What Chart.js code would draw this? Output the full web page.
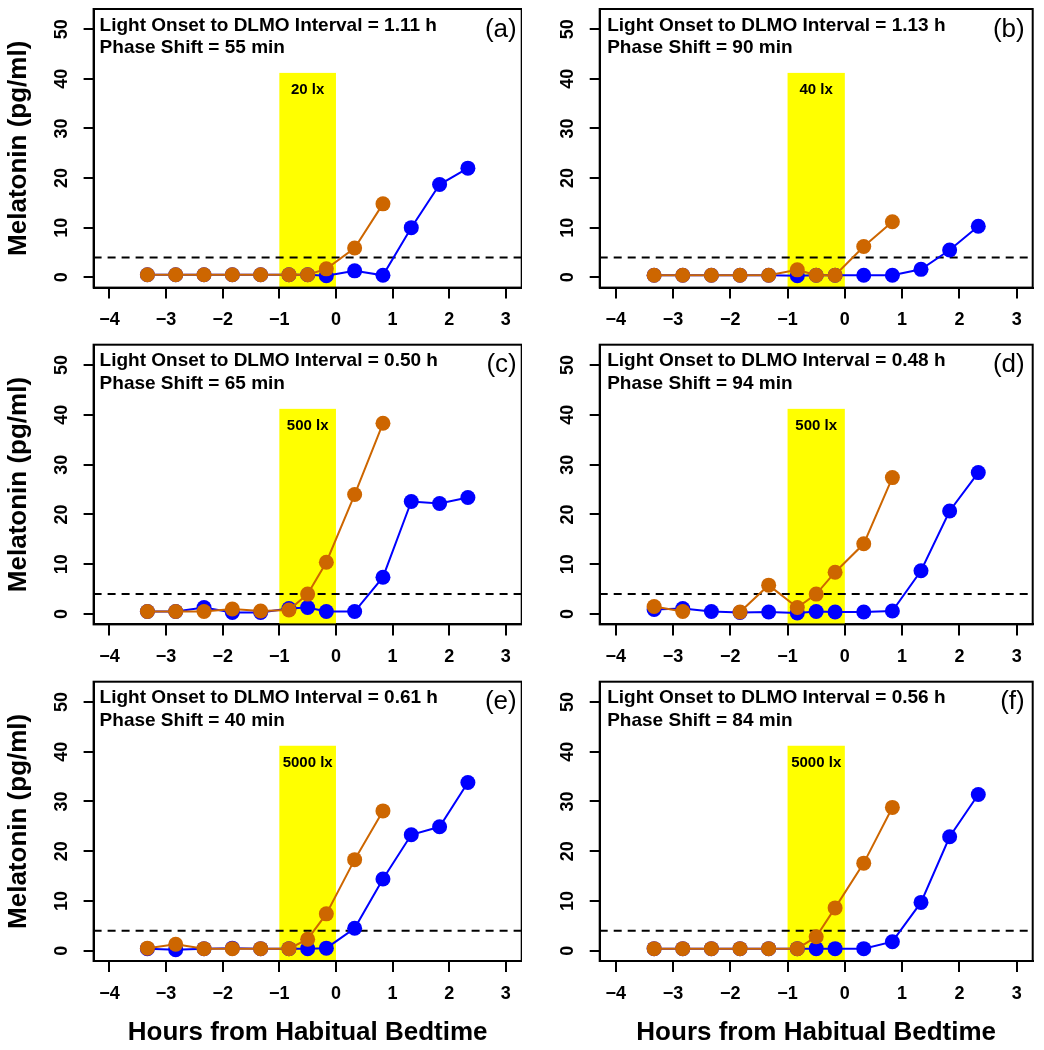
<!DOCTYPE html>
<html>
<head>
<meta charset="utf-8">
<script src="https://cdn.jsdelivr.net/npm/chart.js@4.4.0/dist/chart.umd.min.js"></script>
<style>
html,body{margin:0;padding:0;background:#ffffff;}
#wrap{position:relative;width:1044px;height:1050px;overflow:hidden;}
#wrap canvas{position:absolute;}
</style>
</head>
<body>
<div id="wrap"></div>
<script>
// ---------- data ----------
const hours = [-3.33, -2.83, -2.33, -1.83, -1.33, -0.83, -0.5, -0.17, 0.33, 0.83, 1.33, 1.83, 2.33];

const orangeA = [0.5, 0.5, 0.5, 0.5, 0.5, 0.5, 0.5, 1.7, 5.9, 14.8];
const blueA   = [0.5, 0.5, 0.5, 0.5, 0.5, 0.5, 0.5, 0.3, 1.3, 0.4, 10.0, 18.7, 22.0];

const orangeB = [0.4, 0.4, 0.4, 0.4, 0.4, 1.5, 0.4, 0.4, 6.2, 11.2];
const blueB   = [0.4, 0.4, 0.4, 0.4, 0.4, 0.3, 0.4, 0.4, 0.4, 0.4, 1.6, 5.5, 10.3];

const orangeC = [0.5, 0.5, 0.5, 1.0, 0.6, 0.8, 4.0, 10.4, 24.0, 38.3];
const blueC   = [0.5, 0.5, 1.3, 0.3, 0.3, 1.1, 1.3, 0.5, 0.5, 7.4, 22.6, 22.2, 23.4];

const orangeD = [1.5, 0.5, null, 0.4, 5.8, 1.3, 4.0, 8.4, 14.1, 27.4];
const blueD   = [0.9, 1.1, 0.5, 0.3, 0.4, 0.2, 0.5, 0.4, 0.4, 0.6, 8.7, 20.7, 28.4];

const orangeE = [0.5, 1.3, 0.4, 0.4, 0.4, 0.4, 2.3, 7.4, 18.3, 28.1];
const blueE   = [0.4, 0.2, 0.4, 0.5, 0.4, 0.4, 0.4, 0.5, 4.5, 14.4, 23.3, 24.9, 33.8];

const orangeF = [0.4, 0.4, 0.4, 0.4, 0.4, 0.4, 2.8, 8.6, 17.6, 28.8];
const blueF   = [0.4, 0.4, 0.4, 0.4, 0.4, 0.4, 0.4, 0.4, 0.4, 1.8, 9.7, 22.9, 31.4];

const panelLetters = ['a', 'b', 'c', 'd', 'e', 'f'];
const luxLabels = ['20 lx', '40 lx', '500 lx', '500 lx', '5000 lx', '5000 lx'];
const dlmoIntervals = ['1.11', '1.13', '0.50', '0.48', '0.61', '0.56'];
const phaseShifts = [55, 90, 65, 94, 40, 84];

const xTicks = [-4, -3, -2, -1, 0, 1, 2, 3];
const xTickLabels = ['\u22124', '\u22123', '\u22122', '\u22121', '0', '1', '2', '3'];
const yTicks = [0, 10, 20, 30, 40, 50];
const yTickLabels = ['0', '10', '20', '30', '40', '50'];

const lightStart = -1, lightEnd = 0, lightTop = 41.2, luxLabelY = 37.8;
const dlmoThreshold = 4;
const xMin = -4.28, xMax = 3.28, yMin = -2.08, yMax = 54.08;

// ---------- styling / layout ----------
const FONT = "'Liberation Sans', Arial, Helvetica, sans-serif";
const ORANGE = '#CD6600';
const BLUE = '#0000FF';
const YELLOW = '#FFFF00';

const orangeSeries = [orangeA, orangeB, orangeC, orangeD, orangeE, orangeF];
const blueSeries = [blueA, blueB, blueC, blueD, blueE, blueF];

const cols = [
  {left: 0,   width: 522, yAxisW: 93.6, padR: 0.3, textDx: 6,   letterDx: 5},
  {left: 522, width: 522, yAxisW: 77.7, padR: 11.3, textDx: 7.5, letterDx: 8}
];
const rows = [
  {top: 0,   height: 336, padT: 9,   xAxisH: 48.4},
  {top: 336, height: 336, padT: 8.7, xAxisH: 47.6},
  {top: 672, height: 378, padT: 9.7, xAxisH: 89}
];

const decor = {
  id: 'decor',
  beforeDatasetsDraw(chart, args, o) {
    const {ctx, chartArea: a, scales: {x, y}} = chart;
    ctx.save();
    ctx.beginPath();
    ctx.rect(a.left, a.top, a.right - a.left, a.bottom - a.top);
    ctx.clip();
    const x0 = x.getPixelForValue(lightStart);
    const x1 = x.getPixelForValue(lightEnd);
    const yt = y.getPixelForValue(lightTop);
    ctx.fillStyle = YELLOW;
    ctx.fillRect(x0, yt, x1 - x0, a.bottom - yt);
    ctx.fillStyle = '#000';
    ctx.font = 'bold 15px ' + FONT;
    ctx.textAlign = 'center';
    ctx.textBaseline = 'middle';
    ctx.fillText(o.lux, (x0 + x1) / 2, y.getPixelForValue(luxLabelY));
    const yd = y.getPixelForValue(dlmoThreshold);
    ctx.setLineDash([8, 6]);
    ctx.lineWidth = 2;
    ctx.strokeStyle = '#000';
    ctx.beginPath();
    ctx.moveTo(a.left, yd);
    ctx.lineTo(a.right, yd);
    ctx.stroke();
    ctx.restore();
  },
  afterDraw(chart, args, o) {
    const {ctx, chartArea: a} = chart;
    ctx.save();
    ctx.lineWidth = 2;
    ctx.strokeStyle = '#000';
    ctx.setLineDash([]);
    ctx.strokeRect(a.left, a.top, a.right - a.left, a.bottom - a.top);
    ctx.fillStyle = '#000';
    ctx.textBaseline = 'alphabetic';
    ctx.textAlign = 'left';
    ctx.font = 'bold 19px ' + FONT;
    ctx.fillText('Light Onset to DLMO Interval = ' + o.interval + ' h', a.left + o.textDx, a.top + 21.7);
    ctx.fillText('Phase Shift = ' + o.shift + ' min', a.left + o.textDx, a.top + 44.3);
    ctx.textAlign = 'right';
    ctx.font = '26px ' + FONT;
    ctx.fillText('(' + o.letter + ')', a.right - o.letterDx, a.top + 27.5);
    ctx.restore();
  }
};

const wrap = document.getElementById('wrap');

for (let p = 0; p < 6; p++) {
  const col = cols[p % 2];
  const row = rows[Math.floor(p / 2)];
  const isLeft = p % 2 === 0;
  const isBottom = p >= 4;
  const cv = document.createElement('canvas');
  cv.width = col.width;
  cv.height = row.height;
  cv.style.left = col.left + 'px';
  cv.style.top = row.top + 'px';
  cv.style.width = col.width + 'px';
  cv.style.height = row.height + 'px';
  wrap.appendChild(cv);

  const orange = orangeSeries[p];
  const blue = blueSeries[p];
  const tickFont = {family: FONT, size: 18, weight: 'bold'};

  new Chart(cv.getContext('2d'), {
    type: 'scatter',
    data: {
      datasets: [
        {
          data: orange.map((v, i) => ({x: hours[i], y: v})),
          showLine: true, spanGaps: false,
          borderColor: ORANGE, backgroundColor: ORANGE, borderWidth: 2,
          pointRadius: 7.5, pointHoverRadius: 7.5, pointBorderWidth: 0,
          pointBackgroundColor: ORANGE
        },
        {
          data: blue.map((v, i) => ({x: hours[i], y: v})),
          showLine: true, spanGaps: false,
          borderColor: BLUE, backgroundColor: BLUE, borderWidth: 2,
          pointRadius: 7.5, pointHoverRadius: 7.5, pointBorderWidth: 0,
          pointBackgroundColor: BLUE
        }
      ]
    },
    options: {
      responsive: false,
      maintainAspectRatio: false,
      devicePixelRatio: 1,
      animation: false,
      events: [],
      layout: {autoPadding: false, padding: {left: 0, right: col.padR, top: row.padT, bottom: 0}},
      plugins: {
        legend: {display: false},
        tooltip: {enabled: false},
        title: {display: false},
        decor: {
          lux: luxLabels[p], interval: dlmoIntervals[p], shift: phaseShifts[p],
          letter: panelLetters[p], textDx: col.textDx, letterDx: col.letterDx
        }
      },
      scales: {
        x: {
          type: 'linear', position: 'bottom', min: xMin, max: xMax,
          afterBuildTicks: s => { s.ticks = xTicks.map(v => ({value: v})); },
          afterFit: s => { s.height = row.xAxisH; s.paddingLeft = 0; s.paddingRight = 0; },
          ticks: {
            callback: (v, i) => xTickLabels[i],
            font: tickFont, color: '#000', padding: 11, autoSkip: false,
            minRotation: 0, maxRotation: 0
          },
          grid: {drawOnChartArea: false, drawTicks: true, tickLength: 11, color: '#000', lineWidth: 2},
          border: {display: true, color: '#000', width: 2},
          title: {
            display: isBottom, text: 'Hours from Habitual Bedtime', color: '#000',
            font: {family: FONT, size: 26, weight: 'bold', lineHeight: 1.2},
            padding: {top: 0, bottom: 1.7}
          }
        },
        y: {
          type: 'linear', position: 'left', min: yMin, max: yMax,
          afterBuildTicks: s => { s.ticks = yTicks.map(v => ({value: v})); },
          afterFit: s => { s.width = col.yAxisW; s.paddingTop = 0; s.paddingBottom = 0; },
          ticks: {
            callback: (v, i) => yTickLabels[i],
            font: tickFont, color: '#000', padding: 11.8, autoSkip: false,
            minRotation: 90, maxRotation: 90, crossAlign: 'center'
          },
          grid: {drawOnChartArea: false, drawTicks: true, tickLength: 10, color: '#000', lineWidth: 2},
          border: {display: true, color: '#000', width: 2},
          title: {
            display: isLeft, text: 'Melatonin (pg/ml)', color: '#000',
            font: {family: FONT, size: 26, weight: 'bold', lineHeight: 1.2},
            padding: {top: 3.7, bottom: 0}
          }
        }
      }
    },
    plugins: [decor]
  });
}
</script>
</body>
</html>
